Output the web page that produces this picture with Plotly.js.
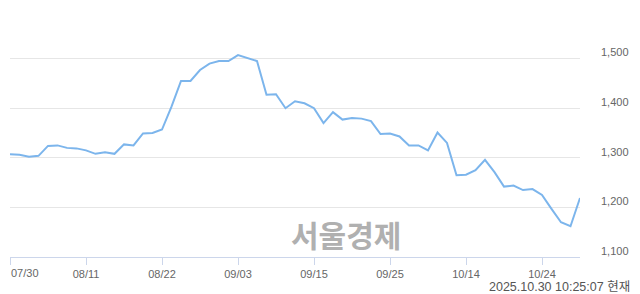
<!DOCTYPE html>
<html>
<head>
<meta charset="utf-8">
<script src="https://cdn.plot.ly/plotly-3.0.1.min.js"></script>
<style>
html,body{margin:0;padding:0;background:#fff;}
#chart{width:640px;height:294px;}
</style>
</head>
<body>
<div id="chart"></div>
<script>
const dates = ["07/30","07/31","08/01","08/04","08/05","08/06","08/07","08/08","08/11","08/12",
  "08/13","08/14","08/18","08/19","08/20","08/21","08/22","08/25","08/26","08/27",
  "08/28","08/29","09/01","09/02","09/03","09/04","09/05","09/08","09/09","09/10",
  "09/11","09/12","09/15","09/16","09/17","09/18","09/19","09/22","09/23","09/24",
  "09/25","09/26","09/29","09/30","10/01","10/02","10/10","10/13","10/14","10/15",
  "10/16","10/17","10/20","10/21","10/22","10/23","10/24","10/27","10/28","10/29","10/30"];
const prices = [1307,1306,1302,1304,1324,1325,1320,1319,1315,1308,
  1311,1308,1327,1325,1349,1350,1357,1403,1455,1455,
  1477,1490,1495,1495,1507,1501,1495,1427,1428,1400,
  1414,1410,1400,1370,1392,1377,1380,1379,1374,1348,
  1349,1343,1325,1325,1315,1351,1330,1265,1266,1275,
  1296,1271,1242,1244,1235,1237,1225,1197,1170,1162,1219];
const xTickLabels = ["07/30","08/11","08/22","09/03","09/15","09/25","10/14","10/24"];
const yTickVals = [1100,1200,1300,1400,1500,1600];
const yTickText = ["1,100","1,200","1,300","1,400","1,500",""];
const watermark = "서울경제";
const timestamp = "2025.10.30 10:25:07 현재";

const labelFont = {family:"Liberation Sans, Arial, sans-serif", size:11, color:"#666666"};

const trace = {
  x: dates, y: prices, type: "scatter", mode: "lines",
  line: {color:"#7cb5ec", width:2},
  hoverinfo: "skip"
};

const layout = {
  width: 640, height: 294,
  margin: {l:10, r:60, t:9, b:37, pad:0},
  paper_bgcolor: "#ffffff", plot_bgcolor: "#ffffff",
  showlegend: false,
  xaxis: {
    type: "category", categoryorder: "array", categoryarray: dates,
    range: [0, dates.length - 1],
    tickmode: "array", tickvals: xTickLabels,
    ticktext: xTickLabels.map((t, i) => i === 0 ? "" : t),
    ticks: "outside", ticklen: 7, tickcolor: "#ccd6eb", tickwidth: 1,
    showline: true, linecolor: "#ccd6eb", linewidth: 1,
    showgrid: false, zeroline: false,
    tickfont: labelFont, fixedrange: true
  },
  yaxis: {
    side: "right", range: [1100, 1600],
    tickmode: "array", tickvals: yTickVals, ticktext: yTickText,
    ticks: "", showline: false, zeroline: false,
    showgrid: true, gridcolor: "#e6e6e6", gridwidth: 1,
    tickfont: labelFont, ticklabelshift: -6, ticklabelstandoff: 20,
    fixedrange: true
  },
  annotations: [
    {text: xTickLabels[0], xref: "paper", yref: "paper", x: 0, y: 0,
     xanchor: "left", yanchor: "top", yshift: -8, xshift: -1,
     showarrow: false, font: labelFont},
    {text: "<b>" + watermark + "</b>", xref: "paper", yref: "paper",
     x: (346 - 10) / 570, y: (257 - 234) / 247.5, xanchor: "center", yanchor: "middle",
     showarrow: false,
     font: {family: "Noto Sans CJK KR, sans-serif", size: 30, color: "#b0b0b0"}},
    {text: timestamp, xref: "paper", yref: "paper",
     x: (632 - 10) / 570, y: (257 - 287) / 247.5, xanchor: "right", yanchor: "middle",
     showarrow: false,
     font: {family: "Liberation Sans, Noto Sans CJK KR, sans-serif", size: 12.5, color: "#555555"}}
  ]
};

Plotly.newPlot("chart", [trace], layout, {staticPlot: true, displayModeBar: false});
</script>
</body>
</html>
